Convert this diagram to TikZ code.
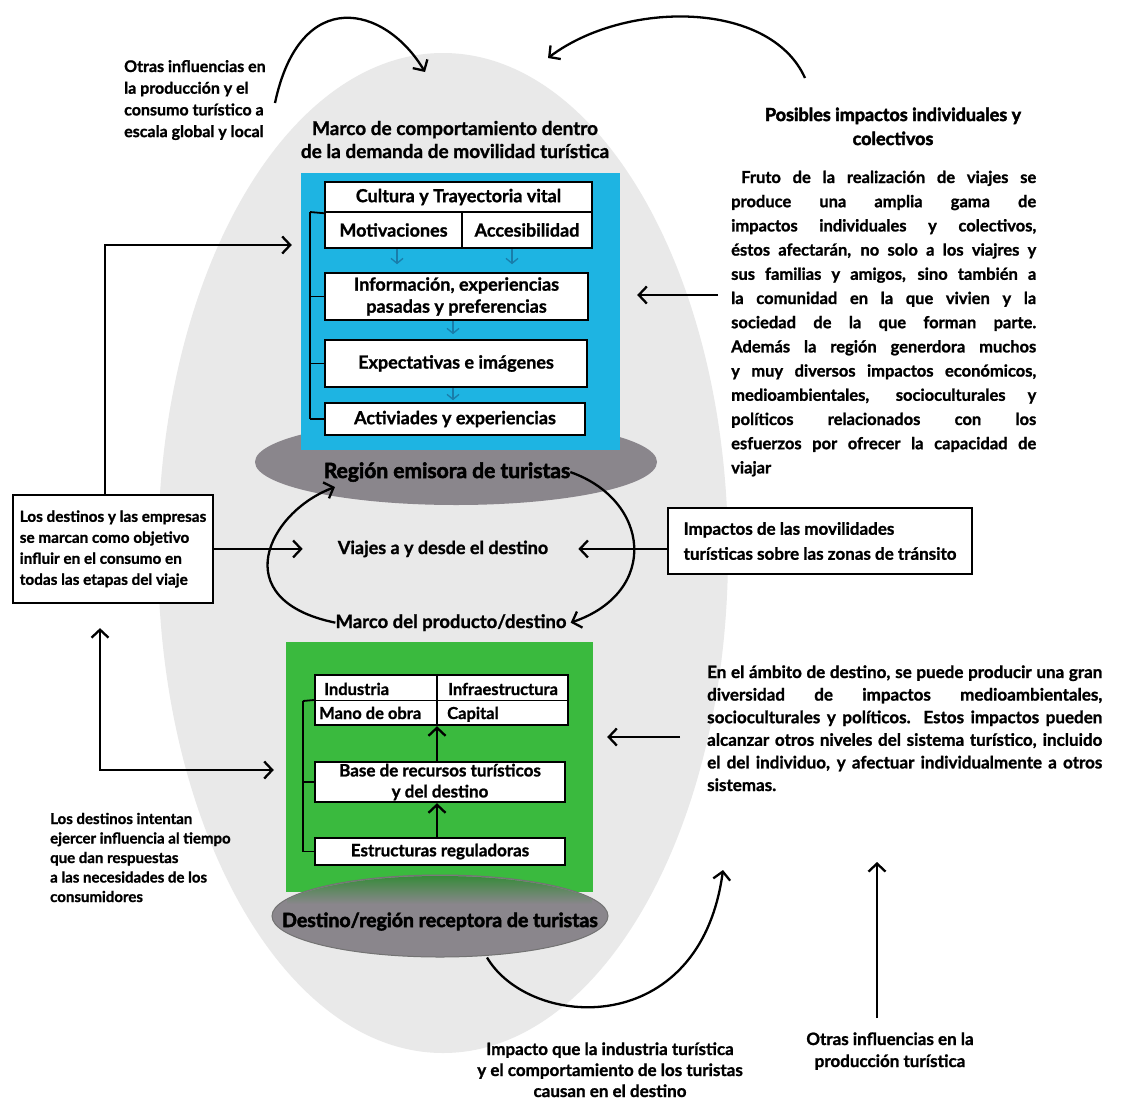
\documentclass[tikz,border=0pt]{standalone}
\usepackage{fontspec}
\setmainfont{Lato}[BoldFeatures={FakeBold=1.2}]
\newfontfamily\heavyfont{Lato}[BoldFeatures={FakeBold=2.6}]
\usetikzlibrary{arrows.meta,shapes.geometric}

\definecolor{halo}{RGB}{233,233,233}
\definecolor{cyanpanel}{RGB}{30,180,226}
\definecolor{greenpanel}{RGB}{58,186,62}
\definecolor{disc}{RGB}{138,134,140}
\definecolor{flowblue}{RGB}{25,125,170}

\newcommand{\setsz}[2]{\fontsize{#1}{#2}\selectfont\bfseries}
\newcommand{\setheavy}[2]{\heavyfont\fontsize{#1}{#2}\selectfont\bfseries}
\newcommand{\jline}[1]{\hbox to \linewidth{#1}}

\tikzset{
  link/.style={line width=2.3pt, -{Straight Barb[length=8pt,width=17pt]}},
  twoway/.style={line width=2.3pt, {Straight Barb[length=8pt,width=17pt]}-{Straight Barb[length=8pt,width=17pt]}},
  card/.style={draw=black, line width=2.4pt, fill=white, inner sep=0pt, font=\setsz{18}{22}},
  gcard/.style={card, font=\setsz{17}{21}},
  lbl/.style={inner sep=0pt, anchor=base},
  lblw/.style={inner sep=0pt, anchor=base west},
  brace/.style={line width=1.8pt},
  flow/.style={flowblue, line width=1.3pt, -{Straight Barb[length=5pt,width=12pt]}},
  frame/.style={draw=black, line width=2.2pt, fill=white, inner sep=0pt},
}

\begin{document}
\begin{tikzpicture}[x=1pt,y=-1pt]
\useasboundingbox (0,0) rectangle (1129,1100);
\fill[white] (0,0) rectangle (1129,1100);

% pale halo behind the whole system
\fill[halo] (443,553) ellipse [x radius=285, y radius=500];

% ---------- generating region ----------
\node[ellipse, fill=disc, minimum width=402, minimum height=86, inner sep=0] (emisora) at (456,462) {};
\node[fill=cyanpanel, minimum width=319, minimum height=277, inner sep=0] (bluepanel) at (460.5,311.5) {};
\node[lbl, font=\setheavy{21}{24}] (emisoratxt) at (447,478) {Región emisora de turistas};

\node[lbl] (marco) at (455,135) {\parbox[t]{360pt}{\centering\setsz{19}{23}Marco de comportamiento dentro\\de la demanda de movilidad turística}};

\node[card, minimum width=267, minimum height=30] (cultura) at (458.5,197) {Cultura y Trayectoria vital};
\node[card, minimum width=137, minimum height=36] (motiv) at (393.5,230) {Motivaciones};
\node[card, minimum width=130, minimum height=36] (acces) at (527,230) {Accesibilidad};
\node[card, minimum width=263, minimum height=47, align=center] (info) at (456.5,296.5) {Información, experiencias\\pasadas y preferencias};
\node[card, minimum width=262, minimum height=47] (expec) at (456,363.5) {Expectativas e imágenes};
\node[card, minimum width=260, minimum height=32] (activ) at (455,419) {Activiades y experiencias};

% bracket on the left of the demand stack
\coordinate (bk) at (310,212);
\draw[brace] (bk) -- (bk |- activ.west);
\draw[brace] (bk) -- (cultura.south west);
\draw[brace] (bk |- info.west) -- (info.west);
\draw[brace] (bk |- expec.west) -- (expec.west);
\draw[brace] (bk |- activ.west) -- (activ.west);

% faint flow marks between the stages
\draw[flow] ([xshift=3.5]motiv.south) -- ++(0,15);
\draw[flow] ([xshift=-15]acces.south) -- ++(0,15);
\draw[flow] ([xshift=-3.5]info.south) -- ++(0,13);
\draw[flow] ([xshift=-3]expec.south) -- ++(0,12);

% ---------- destination region ----------
\node[fill=greenpanel, minimum width=307, minimum height=250, inner sep=0] (greenpanel) at (439.5,767) {};

\node[frame, line width=2.4pt, minimum width=253, minimum height=50] (res) at (441.5,700) {};
\coordinate (axis) at (437,700);
\draw[line width=2.4pt] (axis |- res.north) -- (axis |- res.south);
\draw[line width=0.9pt] (res.west) -- (res.east);
\node[lblw, font=\setsz{16.5}{20}] (industria) at (324,695) {Industria};
\node[lblw, font=\setsz{16.5}{20}] (infra) at (448,695) {Infraestructura};
\node[lblw, font=\setsz{16.5}{20}] (mano) at (319,719) {Mano de obra};
\node[lblw, font=\setsz{16.5}{20}] (capital) at (447,719) {Capital};

\node[gcard, minimum width=250, minimum height=40, align=center] (base) at (440,782) {Base de recursos turísticos\\y del destino};
\node[gcard, minimum width=250, minimum height=27] (estruct) at (440,851.5) {Estructuras reguladoras};
\draw[link] (axis |- base.north) -- (axis |- res.south);
\draw[link] (axis |- estruct.north) -- (axis |- base.south);

\coordinate (gk) at (303,701);
\draw[brace] (gk) -- (gk |- estruct.west);
\draw[brace] (gk) -- (res.west);
\draw[brace] (gk |- base.west) -- (base.west);
\draw[brace] (gk |- estruct.west) -- (estruct.west);

\node[ellipse, fill=disc, draw=black!55, line width=1pt, minimum width=336, minimum height=82, inner sep=0] (receptora) at (440,916) {};
\begin{scope}
  \clip (440,916) ellipse [x radius=167, y radius=40];
  \shade[top color=greenpanel!75!black, bottom color=disc] (287,872) rectangle (592,904);
\end{scope}
\node[lbl, font=\setheavy{19.5}{22}] (receptoratxt) at (440,927) {Destino/región receptora de turistas};

% ---------- transit ----------
\node[lbl, font=\setsz{18}{20}] (viajes) at (443,554) {Viajes a y desde el destino};
\node[lbl, font=\setsz{18.5}{20}] (marcoprod) at (451,628) {Marco del producto/destino};

\coordinate (loopin) at (335,487);
\draw[link] (marcoprod.west) .. controls (225,600) and (268,512) .. (loopin);
\draw[link] (emisoratxt.east) .. controls (650,500) and (660,592) .. ([xshift=4]marcoprod.east);

% ---------- side boxes ----------
\node[frame, minimum width=200, minimum height=108, align=left, font=\setsz{15.3}{21}] (lbox) at (113,549)
  {Los destinos y las empresas\\se marcan como objetivo\\influir en el consumo en\\todas las etapas del viaje};
\draw[link] (lbox.east |- viajes.west) -- ([xshift=-35]viajes.west);

\node[frame, line width=2pt, minimum width=304, minimum height=66, align=left, font=\setsz{17}{25}] (rbox) at (820,541)
  {Impactos de las movilidades\\turísticas sobre las zonas de tránsito};
\draw[link] (rbox.west |- viajes.east) -- ([xshift=30]viajes.east);

\coordinate (upjoin) at (105,245);
\draw[link, shorten >=9pt] (lbox.north -| upjoin) |- (upjoin -| bluepanel.west);
\coordinate (lowjoin) at (100,770);
\draw[twoway, shorten <=24pt, shorten >=12pt] (lowjoin |- lbox.south) |- (lowjoin -| greenpanel.west);

% ---------- texts around ----------
\node[lblw] (otrasg) at (124,72) {\parbox[t]{200pt}{\raggedright\setsz{16}{21.7}Otras influencias en\\la producción y el\\consumo turístico a\\escala global y local}};

\node[lbl] (posibles) at (893,121) {\parbox[t]{340pt}{\centering\setheavy{18}{24}Posibles impactos individuales y\\colectivos}};

\node[lblw] (impactos) at (731,183) {\parbox[t]{305pt}{\setsz{16.5}{24.2}%
\jline{\hspace*{10pt}Fruto de la realización de viajes se}
\jline{produce una amplia gama de}
\jline{impactos individuales y colectivos,}
\jline{éstos afectarán, no solo a los viajres y}
\jline{sus familias y amigos, sino también a}
\jline{la comunidad en la que vivien y la}
\jline{sociedad de la que forman parte.}
\jline{Además la región generdora muchos}
\jline{y muy diversos impactos económicos,}
\jline{medioambientales, socioculturales y}
\jline{políticos relacionados con los}
\jline{esfuerzos por ofrecer la capacidad de}
\hbox{viajar}}};

\node[lblw] (ambito) at (707,678) {\parbox[t]{395pt}{\setsz{17}{22.6}%
\jline{En el ámbito de destino, se puede producir una gran}
\jline{diversidad de impactos medioambientales,}
\jline{socioculturales y políticos. Estos impactos pueden}
\jline{alcanzar otros niveles del sistema turístico, incluido}
\jline{el del individuo, y afectuar\ individualmente a otros}
\hbox{sistemas.}}};

\node[lblw] (intentan) at (50,824) {\parbox[t]{220pt}{\raggedright\setsz{15}{19.5}Los destinos intentan\\ejercer influencia al tiempo\\que dan respuestas\\a las necesidades de los\\consumidores}};

\node[lbl] (impacto) at (610,1055) {\parbox[t]{320pt}{\centering\setsz{17}{21}Impacto que la industria turística\\y el comportamiento de los turistas\\causan en el destino}};

\node[lbl] (otrasp) at (890,1045) {\parbox[t]{220pt}{\centering\setsz{17}{22}Otras influencias en la\\producción turística}};

% ---------- influence arrows ----------
\coordinate (tlstart) at (275,103);
\coordinate (tltip) at (425,72);
\draw[link] (tlstart) .. controls (300,-15) and (385,5) .. (tltip);

\coordinate (trstart) at (805,78);
\coordinate (trtip) at (548,58);
\draw[link] (trstart) .. controls (770,0) and (625,0) .. (trtip);

\coordinate (rarr1) at (718,295);
\draw[link, shorten >=17pt] (rarr1) -- (rarr1 -| bluepanel.east);
\coordinate (rarr2) at (680,737);
\draw[link, shorten >=14pt] (rarr2) -- (rarr2 -| greenpanel.east);

\coordinate (bttip) at (723,870);
\draw[link] ([xshift=47]receptora.south) .. controls (530,1030) and (700,1040) .. (bttip);

\coordinate (vstart) at (877,1018);
\coordinate (vtip) at (877,862);
\draw[link] (vstart) -- (vtip);
\end{tikzpicture}
\end{document}
